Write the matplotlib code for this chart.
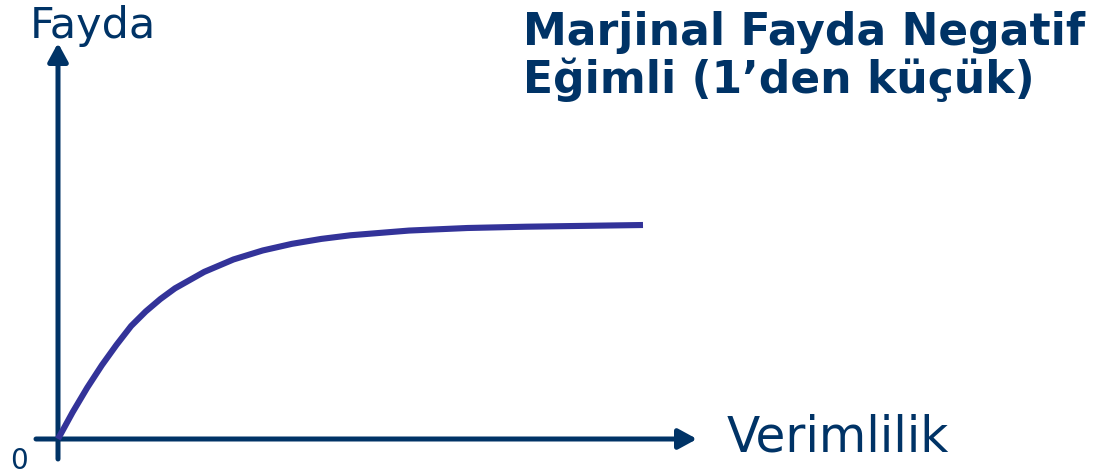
import matplotlib
matplotlib.use("Agg")
import matplotlib.pyplot as plt

# verimlilik (x) ve fayda (y) değerleri
verimlilik = [0, 0.25, 0.5, 0.75, 1, 1.25, 1.5, 1.75, 2, 2.5, 3, 3.5,
              4, 4.5, 5, 6, 7, 8, 9, 10]
fayda = [0, 12.5, 24.0, 34.5, 44.0, 52.8, 59.6, 65.4, 70.4, 78.1, 83.9, 88.1,
         91.2, 93.5, 95.2, 97.4, 98.6, 99.2, 99.6, 100]

title_lines = ["Marjinal Fayda Negatif", "Eğimli (1’den küçük)"]
x_label = "Verimlilik"
y_label = "Fayda"
origin_label = "0"

navy = "#003366"
curve_col = "#333399"

W, H = 1110, 477
fig = plt.figure(figsize=(W / 100, H / 100), dpi=100)
# origin at pixel (58, 440), curve end at (643, 226)
ax = fig.add_axes([58 / W, (H - 440) / H, 585 / W, 214 / H])
ax.set_xlim(0, 10)
ax.set_ylim(0, 100)
ax.axis("off")

px_x = 10 / 585
px_y = 100 / 214

# axes with arrows
arrow = dict(arrowstyle="-|>,head_length=0.55,head_width=0.3",
             color=navy, lw=3.6, mutation_scale=20, shrinkA=0, shrinkB=0)
ax.annotate("", xy=(0, 396 * px_y), xytext=(0, -20 * px_y),
            arrowprops=arrow, annotation_clip=False)
ax.annotate("", xy=(639 * px_x, 0), xytext=(-22 * px_x, 0),
            arrowprops=arrow, annotation_clip=False)

ax.plot(verimlilik, fayda, color=curve_col, lw=4.4, solid_capstyle="butt",
        solid_joinstyle="round", clip_on=False, zorder=3)

fig.text(30 / W, 1 - 38 / H, y_label, fontsize=31, color=navy,
         ha="left", va="baseline")
fig.text(727 / W, 1 - 452 / H, x_label, fontsize=35, color=navy,
         ha="left", va="baseline")
fig.text(10 / W, 1 - 469 / H, origin_label, fontsize=20, color=navy,
         ha="left", va="baseline")

fig.text(523 / W, 1 - 45 / H, title_lines[0], fontsize=31.7, color=navy,
         fontweight="bold", ha="left", va="baseline")
fig.text(523 / W, 1 - 93 / H, title_lines[1], fontsize=31.7, color=navy,
         fontweight="bold", ha="left", va="baseline")

fig.savefig("out.png", dpi=100, facecolor="white")
